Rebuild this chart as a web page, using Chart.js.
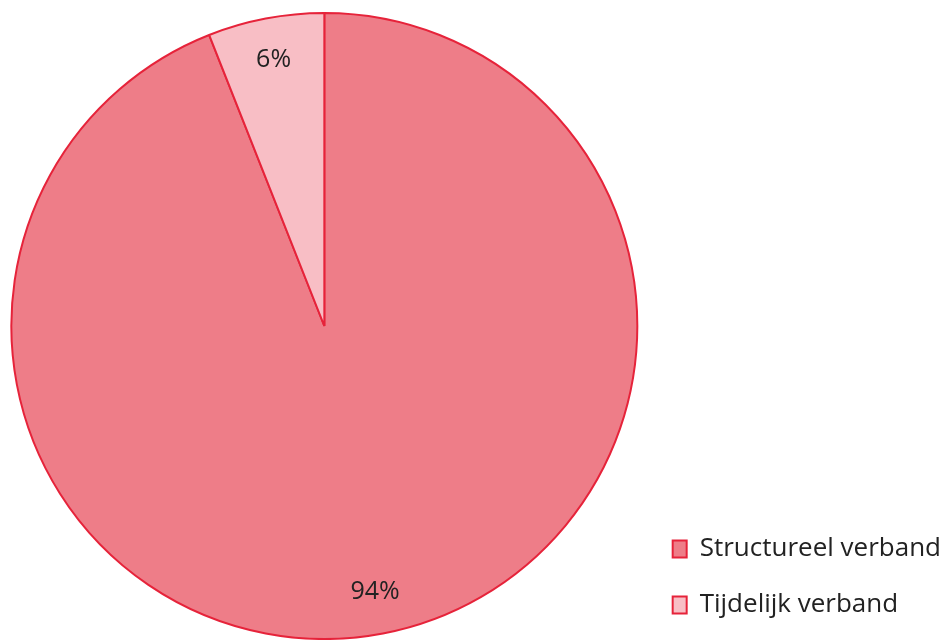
<!DOCTYPE html>
<html><head><meta charset="utf-8">
<script src="https://cdn.jsdelivr.net/npm/chart.js@4"></script>
<style>html,body{margin:0;padding:0;background:#fff;}#wrap{width:947px;height:640px;}</style>
</head><body><div id="wrap"><canvas id="c"></canvas></div>
<script>
const categories = ["Structureel verband", "Tijdelijk verband"];
const shares = [94, 6];
const labelsText = ["94%", "6%"];
const fills = ["#EE7D88", "#F8BEC5"];
const borderCol = "#E6233A";

const sliceLabels = {
  id: 'sliceLabels',
  afterDatasetsDraw(chart) {
    const ctx = chart.ctx;
    const meta = chart.getDatasetMeta(0);
    ctx.save();
    ctx.font = '25px "Open Sans", sans-serif';
    ctx.fillStyle = '#222';
    ctx.textAlign = 'center';
    ctx.textBaseline = 'middle';
    meta.data.forEach((arc, i) => {
      const p = arc.getProps(['x','y','startAngle','endAngle','outerRadius'], true);
      const mid = (p.startAngle + p.endAngle) / 2;
      const r = p.outerRadius * 0.865;
      ctx.fillText(labelsText[i], p.x + Math.cos(mid) * r, p.y + Math.sin(mid) * r);
    });
    ctx.restore();
  }
};

const legendNudge = {
  id: 'legendNudge',
  afterLayout(chart) {
    const lg = chart.legend;
    if (!lg) return;
    lg.left += 4; lg.right += 4;
    lg.top += 8; lg.bottom += 8;
  }
};

new Chart(document.getElementById('c'), {
  type: 'pie',
  data: {
    labels: categories,
    datasets: [{
      data: shares,
      backgroundColor: fills,
      borderColor: borderCol,
      borderWidth: 2
    }]
  },
  options: {
    responsive: true,
    maintainAspectRatio: false,
    animation: false,
    layout: { padding: { left: 10, top: 12, right: 0, bottom: 0 } },
    plugins: {
      tooltip: { enabled: false },
      legend: {
        position: 'right',
        align: 'end',
        labels: {
          font: { family: '"Open Sans", sans-serif', size: 26 },
          color: '#222',
          boxWidth: 14,
          boxHeight: 17,
          padding: 30
        }
      }
    }
  },
  plugins: [sliceLabels, legendNudge]
});
</script></body></html>
